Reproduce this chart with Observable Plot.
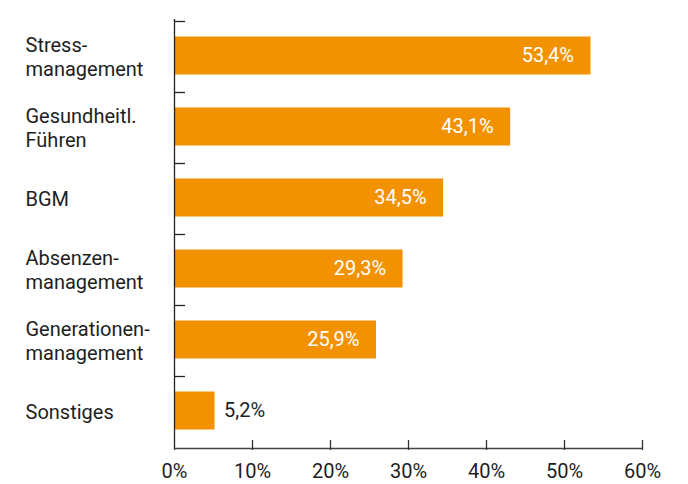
<!DOCTYPE html>
<html>
<head>
<meta charset="utf-8">
<script src="https://cdn.jsdelivr.net/npm/d3@7"></script>
<script src="https://cdn.jsdelivr.net/npm/@observablehq/plot@0.6"></script>
<style>
  html, body { margin: 0; padding: 0; background: #fff; }
  #chart svg { display: block; }
</style>
</head>
<body>
<div id="chart"></div>
<script>
const categories = ["Stress-\nmanagement", "Gesundheitl.\nFühren", "BGM", "Absenzen-\nmanagement", "Generationen-\nmanagement", "Sonstiges"];
const values = [53.4, 43.1, 34.5, 29.3, 25.9, 5.2];
const xTicks = [0, 10, 20, 30, 40, 50, 60];

const data = categories.map((c, i) => ({category: c, value: values[i]}));
const fmt = v => v.toFixed(1).replace(".", ",") + "%";

const W = 688, H = 484;
const mL = 174, mT = 19, mB = 34, mR = 46;
const orange = "#f39200";
const ink = "#1e1e1e";
const font = "Roboto, 'Noto Sans', sans-serif";

const chart = Plot.plot({
  width: W, height: H,
  marginLeft: mL, marginTop: mT, marginBottom: mB, marginRight: mR,
  style: {fontFamily: font, fontSize: "20px", color: ink, background: "#fff"},
  x: {domain: [0, 60], axis: null},
  y: {domain: categories, axis: null, paddingInner: 0.47, paddingOuter: 0.235},
  marks: [
    Plot.barX(data, {x: "value", y: "category", fill: orange, dy: -1.5}),
    // band-boundary ticks on y axis
    Plot.tickY(categories, {y: d => d, dy: -36, stroke: "#222", strokeWidth: 1.3, insetRight: W - mL - mR - 11}),
    // y axis line
    Plot.ruleX([0], {stroke: "#222", strokeWidth: 1.3}),
    // x axis line
    Plot.ruleY([0], {y: () => categories[categories.length - 1], dy: 36, x1: 0, x2: 60, stroke: "#444", strokeWidth: 1.3}),
    // x ticks going up
    Plot.ruleX(xTicks.slice(1), {x: d => d, insetTop: H - mT - mB - 10, stroke: "#333", strokeWidth: 1.3}),
    // x tick labels
    Plot.text(xTicks, {x: d => d, frameAnchor: "bottom", dy: 27, text: d => d + "%", fill: ink, fontSize: 20}),
    // category labels
    Plot.text(data, {y: "category", text: "category", frameAnchor: "left", textAnchor: "start", dx: -149, dy: -1.5, lineHeight: 1.2, fill: ink, fontSize: 20}),
    // value labels inside
    Plot.text(data.filter(d => d.value > 10), {x: "value", y: "category", text: d => fmt(d.value), textAnchor: "end", dx: -17, dy: -1.5, fill: "#fff", fontSize: 20}),
    // value labels outside
    Plot.text(data.filter(d => d.value <= 10), {x: "value", y: "category", text: d => fmt(d.value), textAnchor: "start", dx: 9, dy: -1.5, fill: ink, fontSize: 20})
  ]
});
document.getElementById("chart").appendChild(chart);
</script>
</body>
</html>
